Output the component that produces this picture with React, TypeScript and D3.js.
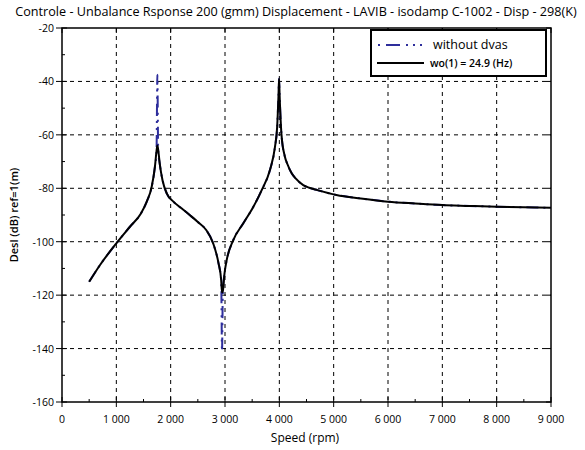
import React, { useRef, useEffect } from 'react';
import * as d3 from 'd3';

// rotor speed (rpm) and response (dB ref 1 m)
const speeds = [500, 700, 1000, 1250, 1450, 1560, 1650, 1710, 1740, 1755, 1770, 1800, 1850, 1930, 2050,
  2200, 2350, 2500, 2650, 2780, 2880, 2930, 2945, 2960, 2990, 3030, 3150, 3340, 3520, 3680, 3830, 3920, 3960,
  3985, 3995, 4005, 4040, 4100, 4150, 4230, 4300, 4440, 4550, 4700, 5050, 5500, 6000, 6500, 7000, 7500, 8000, 8500, 9000];

const withDvas = [-115, -108.7, -100.6, -94.4, -89.5, -85, -79.5, -72, -66, -64, -65.5, -71, -77, -82, -85,
  -87.5, -90, -92.6, -95.5, -100.5, -108, -114.5, -119, -118.5, -112, -107, -99.5, -93, -87, -80.5, -73, -64.5, -57,
  -45, -39, -45, -60, -68, -71, -74.5, -76.3, -78.8, -79.8, -80.7, -82.5, -83.8, -85, -85.7, -86.3, -86.6, -86.9, -87.1, -87.3];

const withoutDvas = [-115, -108.7, -100.6, -94.4, -89.5, -85, -79.5, -72, -66, -37.5, -65.5, -71, -77, -82, -85,
  -87.5, -90, -92.6, -95.5, -100.5, -108, -114.5, -141, -118.5, -112, -107, -99.5, -93, -87, -80.5, -73, -64.5, -57,
  -45, -39, -45, -60, -68, -71, -74.5, -76.3, -78.8, -79.8, -80.7, -82.5, -83.8, -85, -85.7, -86.3, -86.6, -86.9, -87.1, -87.3];

const xTicks = [0, 1000, 2000, 3000, 4000, 5000, 6000, 7000, 8000, 9000];
const yTicks = [-20, -40, -60, -80, -100, -120, -140, -160];

const title = 'Controle - Unbalance Rsponse 200 (gmm)  Displacement - LAVIB - isodamp C-1002 - Disp - 298(K)';

const App = () => {
  const svgRef = useRef(null);

  useEffect(() => {
    const svg = d3.select(svgRef.current);
    svg.selectAll('*').remove();

    const left = 62, right = 551, top = 28, bottom = 402;
    const font = '"Open Sans", "Liberation Sans", sans-serif';

    const x = d3.scaleLinear().domain([0, 9000]).range([left, right]);
    const y = d3.scaleLinear().domain([-160, -20]).range([bottom, top]);

    // grid
    const grid = svg.append('g').attr('stroke', '#000').attr('stroke-width', 1).attr('stroke-dasharray', '4 4');
    xTicks.slice(1, -1).forEach(t => {
      grid.append('line').attr('x1', x(t)).attr('x2', x(t)).attr('y1', top).attr('y2', bottom);
    });
    yTicks.slice(1, -1).forEach(t => {
      grid.append('line').attr('x1', left).attr('x2', right).attr('y1', y(t)).attr('y2', y(t));
    });

    // minor ticks (inward)
    const minor = svg.append('g').attr('stroke', '#000').attr('stroke-width', 1);
    d3.range(500, 9000, 1000).forEach(t => {
      minor.append('line').attr('x1', x(t)).attr('x2', x(t)).attr('y1', bottom).attr('y2', bottom - 3);
    });
    d3.range(-30, -160, -20).forEach(t => {
      minor.append('line').attr('x1', left).attr('x2', left + 3).attr('y1', y(t)).attr('y2', y(t));
    });

    // major ticks
    const major = svg.append('g').attr('stroke', '#000').attr('stroke-width', 1);
    xTicks.forEach(t => {
      major.append('line').attr('x1', x(t)).attr('x2', x(t)).attr('y1', bottom - 5).attr('y2', bottom + 5);
      major.append('line').attr('x1', x(t)).attr('x2', x(t)).attr('y1', top).attr('y2', top + 5);
    });
    yTicks.forEach(t => {
      major.append('line').attr('x1', left - 6).attr('x2', left + 5).attr('y1', y(t)).attr('y2', y(t));
      major.append('line').attr('x1', right - 5).attr('x2', right).attr('y1', y(t)).attr('y2', y(t));
    });

    // frame
    svg.append('rect')
      .attr('x', left).attr('y', top)
      .attr('width', right - left).attr('height', bottom - top)
      .attr('fill', 'none').attr('stroke', '#000').attr('stroke-width', 1.5);

    // tick labels
    svg.append('g').selectAll('text').data(xTicks).enter().append('text')
      .attr('x', d => x(d)).attr('y', bottom + 21)
      .attr('text-anchor', 'middle')
      .attr('font-family', font).attr('font-size', 10.5)
      .text(d => d3.format(',')(d).replace(',', ' '));

    svg.append('g').selectAll('text').data(yTicks).enter().append('text')
      .attr('x', left - 8).attr('y', d => y(d) + 4)
      .attr('text-anchor', 'end')
      .attr('font-family', font).attr('font-size', 10.5)
      .text(d => String(d));

    // curves
    const line = d3.line<number>()
      .x((d, i) => x(speeds[i]))
      .y(d => y(d))
      .curve(d3.curveMonotoneX);

    svg.append('path').datum(withoutDvas)
      .attr('d', line)
      .attr('fill', 'none').attr('stroke', '#2e2e9c').attr('stroke-width', 2)
      .attr('stroke-dasharray', '12 5 2 5 2 5');

    svg.append('path').datum(withDvas)
      .attr('d', line)
      .attr('fill', 'none').attr('stroke', '#000').attr('stroke-width', 2);

    // legend
    const lg = svg.append('g');
    lg.append('rect').attr('x', 371).attr('y', 30).attr('width', 175).attr('height', 46)
      .attr('fill', '#fff').attr('stroke', '#000').attr('stroke-width', 2);
    lg.append('line').attr('x1', 378).attr('x2', 424).attr('y1', 45).attr('y2', 45)
      .attr('stroke', '#2e2e9c').attr('stroke-width', 2).attr('stroke-dasharray', '2 6 14 6 2 5 2 5');
    lg.append('text').attr('x', 433).attr('y', 49)
      .attr('font-family', font).attr('font-size', 12.5).text('without dvas');
    lg.append('line').attr('x1', 377).attr('x2', 424).attr('y1', 63).attr('y2', 63)
      .attr('stroke', '#000').attr('stroke-width', 2);
    lg.append('text').attr('x', 430).attr('y', 67)
      .attr('font-family', font).attr('font-size', 10.5).attr('font-weight', 600)
      .text('wo(1) = 24.9 (Hz)');

    // title, sized so it fits the width
    const titleText = svg.append('text').attr('x', 296).attr('y', 16)
      .attr('text-anchor', 'middle')
      .attr('font-family', font).attr('font-size', 13)
      .text(title);
    const w = titleText.node().getComputedTextLength();
    if (w > 562) titleText.attr('font-size', 13 * 562 / w);

    svg.append('text').attr('x', 305).attr('y', 442)
      .attr('text-anchor', 'middle')
      .attr('font-family', font).attr('font-size', 12)
      .text('Speed (rpm)');

    svg.append('text')
      .attr('transform', `translate(18, ${(top + bottom) / 2}) rotate(-90)`)
      .attr('text-anchor', 'middle')
      .attr('font-family', font).attr('font-size', 11).attr('font-weight', 600)
      .text('Desl (dB) ref=1(m)');
  }, []);

  return (
    <svg ref={svgRef} width={585} height={450}
      style={{ position: 'absolute', left: 0, top: 0, display: 'block', background: '#fff' }} />
  );
};

export default App;
